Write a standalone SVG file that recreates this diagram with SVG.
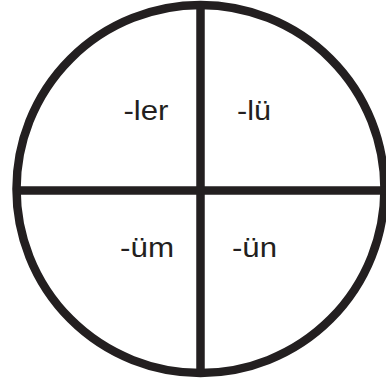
<svg xmlns="http://www.w3.org/2000/svg" width="386" height="381" viewBox="0 0 386 381">
<style>
.ln{stroke:#231f20;stroke-width:8.5;fill:none}
.lb{font-family:"Liberation Sans",Arial,sans-serif;font-size:27px;fill:#231f20;text-anchor:middle}
</style>
<rect width="386" height="381" fill="#fff"/>
<g id="connectors">
<circle class="ln" cx="200.5" cy="189" r="184"/>
<line class="ln" x1="200.5" y1="5" x2="200.5" y2="373"/>
<line class="ln" x1="16.5" y1="190.5" x2="386" y2="190.5"/>
</g>
<g id="q1"><text class="lb" x="146" y="120" textLength="45" lengthAdjust="spacingAndGlyphs">-ler</text></g>
<g id="q2"><text class="lb" x="254" y="120" textLength="34" lengthAdjust="spacingAndGlyphs">-lü</text></g>
<g id="q3"><text class="lb" x="147" y="256.5" textLength="54" lengthAdjust="spacingAndGlyphs">-üm</text></g>
<g id="q4"><text class="lb" x="254.5" y="256.5" textLength="45" lengthAdjust="spacingAndGlyphs">-ün</text></g>
</svg>
